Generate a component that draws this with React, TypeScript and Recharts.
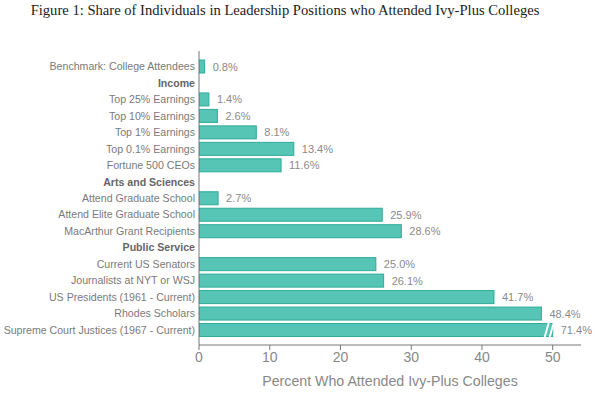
import React from 'react';
import { BarChart, Bar, XAxis, YAxis, LabelList } from 'recharts';

const categories = [
  'Benchmark: College Attendees',
  'Income',
  'Top 25% Earnings',
  'Top 10% Earnings',
  'Top 1% Earnings',
  'Top 0.1% Earnings',
  'Fortune 500 CEOs',
  'Arts and Sciences',
  'Attend Graduate School',
  'Attend Elite Graduate School',
  'MacArthur Grant Recipients',
  'Public Service',
  'Current US Senators',
  'Journalists at NYT or WSJ',
  'US Presidents (1961 - Current)',
  'Rhodes Scholars',
  'Supreme Court Justices (1967 - Current)',
];

const shares: (number | null)[] = [
  0.8, null, 1.4, 2.6, 8.1, 13.4, 11.6, null, 2.7, 25.9, 28.6, null, 25.0, 26.1, 41.7, 48.4, 71.4,
];

const headers = ['Income', 'Arts and Sciences', 'Public Service'];
const xTicks = [0, 10, 20, 30, 40, 50];
const axisMax = 54;
const breakAt = 50;

const data = categories.map((name, i) => ({
  name,
  value: shares[i],
  shown: shares[i] == null ? null : Math.min(shares[i] as number, breakAt),
}));

const font = '"Liberation Sans", Arial, sans-serif';

const CategoryTick = (props: any) => {
  const { x, y, payload } = props;
  const bold = headers.includes(payload.value);
  return (
    <text
      x={x + 4}
      y={y}
      dy={4}
      textAnchor="end"
      fontFamily={font}
      fontSize={10.6}
      fontWeight={bold ? 'bold' : 'normal'}
      fill={bold ? '#666' : '#7a7a7a'}
    >
      {payload.value}
    </text>
  );
};

const BarShape = (props: any) => {
  const { x, y, width, height, payload } = props;
  if (payload.value == null || width <= 0) return null;
  const broken = payload.value > breakAt;
  return (
    <g>
      <rect x={x} y={y} width={width} height={height} fill="#56c5b5" stroke="#2eab98" strokeWidth={1} />
      {broken && (
        <g fill="#fff">
          <polygon points={`${x + width - 9},${y + height + 0.5} ${x + width - 7},${y + height + 0.5} ${x + width - 3},${y - 0.5} ${x + width - 5},${y - 0.5}`} />
          <polygon points={`${x + width - 4},${y + height + 0.5} ${x + width - 2},${y + height + 0.5} ${x + width + 2},${y - 0.5} ${x + width},${y - 0.5}`} />
        </g>
      )}
    </g>
  );
};

const ValueLabel = (props: any) => {
  const { x, y, width, height, value } = props;
  if (value == null) return null;
  return (
    <text
      x={x + width + 8}
      y={y + height / 2}
      dy={4}
      fontFamily={font}
      fontSize={11}
      fill="#8a8a8a"
    >
      {Number(value).toFixed(1)}%
    </text>
  );
};

export default function App() {
  return (
    <div style={{ position: 'absolute', left: 0, top: 0, width: 610, height: 395, background: '#fff' }}>
      <div
        style={{
          position: 'absolute',
          top: 2,
          left: 0,
          width: 570,
          textAlign: 'center',
          fontFamily: '"Liberation Serif", "DejaVu Serif", serif',
          fontSize: 14.6,
          color: '#222',
        }}
      >
        Figure 1: Share of Individuals in Leadership Positions who Attended Ivy-Plus Colleges
      </div>
      <BarChart
        width={610}
        height={395}
        data={data}
        layout="vertical"
        margin={{ top: 51, right: 29, left: 0, bottom: 0 }}
        barSize={13}
      >
        <XAxis
          type="number"
          domain={[0, axisMax]}
          ticks={xTicks}
          allowDataOverflow
          height={50}
          stroke="#777"
          tickSize={5}
          tick={{ fontFamily: font, fontSize: 14, fill: '#888' }}
          label={{
            value: 'Percent Who Attended Ivy-Plus Colleges',
            position: 'insideBottom',
            offset: 9,
            fontFamily: font,
            fontSize: 14.2,
            fill: '#888',
          }}
        />
        <YAxis
          type="category"
          dataKey="name"
          width={199}
          stroke="#777"
          tickLine={false}
          interval={0}
          padding={{ top: 7, bottom: 7 }}
          tick={<CategoryTick />}
        />
        <Bar dataKey="shown" isAnimationActive={false} shape={<BarShape />}>
          <LabelList dataKey="value" content={<ValueLabel />} />
        </Bar>
      </BarChart>
    </div>
  );
}
